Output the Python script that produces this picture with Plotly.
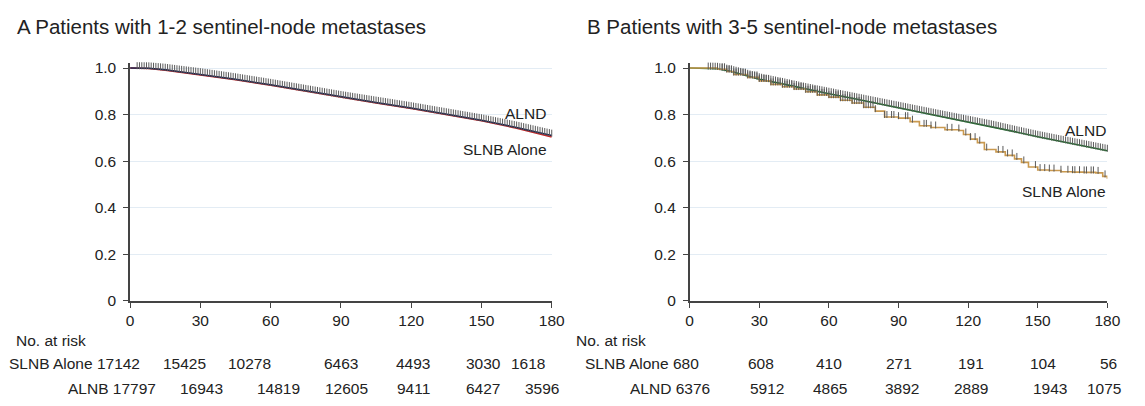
import numpy as np
import plotly.graph_objects as go

W, H = 1145, 406

# ---------------- data ----------------
risk_times = [0, 30, 60, 90, 120, 150, 180]

# Panel A (1-2 sentinel-node metastases)
a_alnd_t = [0, 8, 15, 22, 30, 45, 60, 75, 90, 105, 120, 135, 150, 165, 180]
a_alnd_s = [1.0, 0.999, 0.993, 0.984, 0.974, 0.952, 0.928, 0.902, 0.876, 0.852, 0.828, 0.802, 0.776, 0.745, 0.710]
a_slnb_t = [0, 8, 15, 22, 30, 45, 60, 75, 90, 105, 120, 135, 150, 165, 180]
a_slnb_s = [1.0, 0.998, 0.991, 0.982, 0.972, 0.950, 0.926, 0.900, 0.874, 0.850, 0.826, 0.800, 0.774, 0.742, 0.704]
a_censor_t = list(range(3, 181))
a_risk_slnb = [17142, 15425, 10278, 6463, 4493, 3030, 1618]
a_risk_alnb = [17797, 16943, 14819, 12605, 9411, 6427, 3596]

# Panel B (3-5 sentinel-node metastases)
b_alnd_t = [0, 12, 18, 24, 30, 40, 50, 60, 70, 80, 90, 100, 110, 120, 130, 140, 150, 160, 170, 180]
b_alnd_s = [1.0, 0.997, 0.985, 0.97, 0.952, 0.932, 0.91, 0.89, 0.87, 0.85, 0.83, 0.81, 0.79, 0.77, 0.75,
            0.727, 0.705, 0.685, 0.665, 0.645]
b_slnb_t = [0, 12, 16, 19, 25, 30, 35, 40, 45, 50, 55, 60, 65, 70, 75, 80, 84, 90, 95, 99, 104, 110, 116,
            118, 121, 124, 127, 132, 136, 140, 143, 146, 150, 155, 160, 165, 170, 175, 178, 180]
b_slnb_s = [1.0, 0.995, 0.985, 0.972, 0.96, 0.945, 0.93, 0.92, 0.91, 0.898, 0.885, 0.875, 0.862, 0.85,
            0.832, 0.815, 0.79, 0.785, 0.77, 0.752, 0.745, 0.735, 0.732, 0.715, 0.695, 0.68, 0.65, 0.64,
            0.625, 0.61, 0.595, 0.575, 0.562, 0.56, 0.555, 0.553, 0.552, 0.55, 0.535, 0.525]
b_alnd_censor_t = list(range(8, 181))
b_slnb_censor_t = list(range(14, 81)) + [84, 85, 87, 88, 90, 93, 94, 96, 101, 102, 104, 106, 111, 113, 116,
                                         119, 121, 123, 125, 128, 133, 135, 137, 139, 141, 144, 149, 151,
                                         153, 155, 157, 160, 163, 165, 166, 168, 170, 171, 173, 174, 176, 179]
b_risk_slnb = [680, 608, 410, 271, 191, 104, 56]
b_risk_alnd = [6376, 5912, 4865, 3892, 2889, 1943, 1075]

# ---------------- style ----------------
FONT = "Liberation Sans, Arial, sans-serif"
TXT = "#222222"
AXC = "#444444"
GRID = "#e3ecf4"
CENS = "#5a5a5a"


def on_linear(t_arr, s_arr, times):
    return np.interp(times, t_arr, s_arr)


def on_step(t_arr, s_arr, times):
    idx = np.searchsorted(np.asarray(t_arr), np.asarray(times), side="right") - 1
    return np.asarray(s_arr)[idx]


fig = go.Figure()


def curve(x, y, color, xa, ya, shape, width=1.6):
    fig.add_trace(go.Scatter(x=x, y=y, mode="lines", line=dict(color=color, width=width, shape=shape),
                             xaxis=xa, yaxis=ya, showlegend=False, hoverinfo="skip"))


def censor(times, surv, xa, ya):
    fig.add_trace(go.Scatter(x=times, y=np.asarray(surv) + 0.0105, mode="markers",
                             marker=dict(symbol="line-ns", size=5, line=dict(color=CENS, width=1)),
                             xaxis=xa, yaxis=ya, showlegend=False, hoverinfo="skip", cliponaxis=False))


# Panel A
curve(a_slnb_t, a_slnb_s, "#c62828", "x", "y", "linear")
curve(a_alnd_t, a_alnd_s, "#1c2550", "x", "y", "linear", 1.5)
censor(a_censor_t, on_linear(a_alnd_t, a_alnd_s, a_censor_t), "x", "y")

# Panel B
curve(b_alnd_t, b_alnd_s, "#1e6b2a", "x2", "y2", "linear")
curve(b_slnb_t, b_slnb_s, "#c9994f", "x2", "y2", "hv")
censor(b_alnd_censor_t, on_linear(b_alnd_t, b_alnd_s, b_alnd_censor_t), "x2", "y2")
censor(b_slnb_censor_t, on_step(b_slnb_t, b_slnb_s, b_slnb_censor_t), "x2", "y2")

# ---------------- axes ----------------
ydom = [(H - 306) / H, (H - 61.2) / H]
xax = dict(range=[0, 180], tickvals=risk_times, ticks="outside", ticklen=5, tickwidth=1.3, tickcolor=AXC,
           showline=True, linecolor=AXC, linewidth=1.5, showgrid=False, zeroline=False,
           tickfont=dict(family=FONT, size=15.5, color=TXT), fixedrange=True)
yax = dict(range=[0, 1.02], tickvals=[0, 0.2, 0.4, 0.6, 0.8, 1.0],
           ticktext=["0", "0.2", "0.4", "0.6", "0.8", "1.0"], ticks="outside", ticklen=5, tickwidth=1.3,
           tickcolor=AXC, showline=True, linecolor=AXC, linewidth=1.5, showgrid=True, gridcolor=GRID,
           gridwidth=1, zeroline=False, tickfont=dict(family=FONT, size=15.5, color=TXT), domain=ydom,
           ticklabelstandoff=4, fixedrange=True)

fig.update_layout(
    width=W, height=H, margin=dict(l=0, r=0, t=0, b=0),
    paper_bgcolor="white", plot_bgcolor="white",
    xaxis=dict(xax, domain=[128 / W, 556 / W], anchor="y"),
    yaxis=dict(yax, anchor="x"),
    xaxis2=dict(xax, domain=[696 / W, 1120 / W], anchor="y2"),
    yaxis2=dict(yax, anchor="x2"),
    showlegend=False,
)

ann = []


def text(x, y, s, xref="paper", xanchor="left", xshift=0, size=15.5, yref="paper"):
    ann.append(dict(x=x, y=y, xref=xref, yref=yref, text=s, showarrow=False, xanchor=xanchor,
                    yanchor="middle", xshift=xshift, font=dict(family=FONT, size=size, color=TXT)))


def py(pix):
    return (H - pix) / H


# titles
text(11 / W, py(23), "A Patients with 1-2 sentinel-node metastases", size=20.5)
text(590 / W, py(23), "B Patients with 3-5 sentinel-node metastases", size=20.5)

# curve labels
text(180, 0.804, "ALND", xref="x", xanchor="right", xshift=-4, yref="y")
text(180, 0.65, "SLNB Alone", xref="x", xanchor="right", xshift=-3, yref="y")
text(180, 0.733, "ALND", xref="x2", xanchor="right", xshift=1, yref="y2")
text(180, 0.47, "SLNB Alone", xref="x2", xanchor="right", xshift=1, yref="y2")

# number at risk
text(10 / W, py(347), "No. at risk")
text(579 / W, py(347), "No. at risk")

rows = [
    ("x", "SLNB Alone", a_risk_slnb, 370, 12, [-16, -21, 0, 2, 2, -24]),
    ("x", "ALNB", a_risk_alnb, 396, 28, [1, 8, 6, 2, 2, -10]),
    ("x2", "SLNB Alone", b_risk_slnb, 370, 11, [2, 0, 0, 3, 5, 1]),
    ("x2", "ALND", b_risk_alnd, 396, 22, [8, 1, 3, 3, 12, -3]),
]
for xr, label, counts, ypix, first_shift, shifts in rows:
    text(risk_times[0], py(ypix), f"{label} {counts[0]}", xref=xr, xanchor="right", xshift=first_shift)
    for t, c, sh in zip(risk_times[1:], counts[1:], shifts):
        text(t, py(ypix), str(c), xref=xr, xanchor="center", xshift=sh)

fig.update_layout(annotations=ann)
fig.write_html("out.html", config={"displayModeBar": False},
               post_script="document.body.style.margin='0';document.body.style.overflow='hidden';")
